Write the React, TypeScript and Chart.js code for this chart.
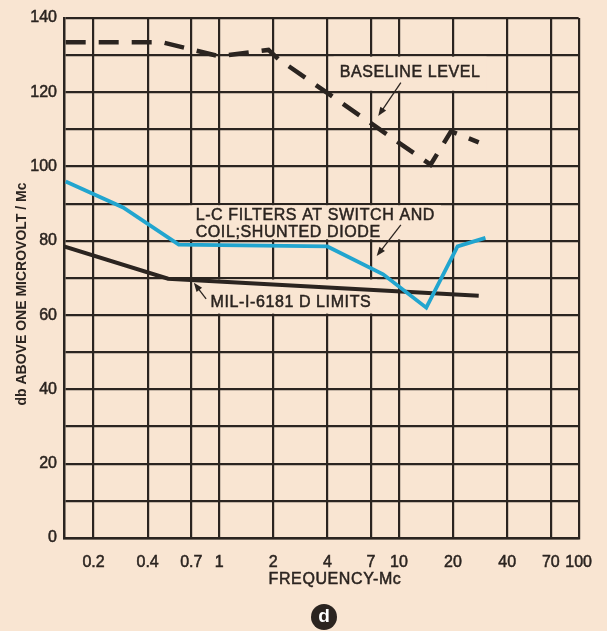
import React, { useEffect, useRef } from "react";
import { Chart, registerables } from "chart.js";

Chart.register(...registerables);

// ---- data ----
const freqTicks = [0.2, 0.4, 0.7, 1, 2, 4, 7, 10, 20, 40, 70, 100];
const freqTickLabels = ["0.2", "0.4", "0.7", "1", "2", "4", "7", "10", "20", "40", "70", "100"];
const dbLabelStep = 20;

const baselineFreq = [0.14, 0.48, 1.0, 1.88, 2.13, 15, 19.5, 27.8];
const baselineDb = [133.5, 133.5, 129.7, 131.4, 129, 100.5, 109.5, 106.5];

const lcFreq = [0.14, 0.292, 0.596, 4, 8.17, 14.2, 21.2, 30.3];
const lcDb = [96, 89, 79, 78.5, 71, 62, 78.5, 80.8];

const milFreq = [0.137, 0.52, 27.8];
const milDb = [78.5, 69.8, 65.2];

// ---- style ----
const PAPER = "#f9e5d2";
const INK = "#2b2420";
const BLUE = "#22a5cf";
const FONT = "'Liberation Sans', Arial, sans-serif";

const pts = (xs: number[], ys: number[]) => xs.map((x, i) => ({ x, y: ys[i] }));

type Note = {
  lines: string[];
  at: [number, number];
  lineGap: number;
  box: [number, number];
  arrowFrom: [number, number];
  arrowTo: [number, number];
};

const notes: Note[] = [
  {
    lines: ["BASELINE LEVEL"],
    at: [4.68, 125.3],
    lineGap: 0,
    box: [130, 120],
    arrowFrom: [10.25, 122.6],
    arrowTo: [7.67, 113.6],
  },
  {
    lines: ["L-C FILTERS AT SWITCH AND", "COIL;SHUNTED DIODE"],
    at: [0.74, 86.8],
    lineGap: 17,
    box: [90, 80],
    arrowFrom: [10.25, 84.3],
    arrowTo: [7.52, 75.9],
  },
  {
    lines: ["MIL-I-6181 D LIMITS"],
    at: [0.895, 63.5],
    lineGap: 0,
    box: [70, 60],
    arrowFrom: [0.846, 64.4],
    arrowTo: [0.723, 68.7],
  },
];

function arrow(ctx: CanvasRenderingContext2D, x1: number, y1: number, x2: number, y2: number) {
  const a = Math.atan2(y2 - y1, x2 - x1);
  const L = 9, W = 3.5;
  ctx.save();
  ctx.strokeStyle = INK;
  ctx.fillStyle = INK;
  ctx.lineWidth = 1.3;
  ctx.beginPath();
  ctx.moveTo(x1, y1);
  ctx.lineTo(x2 - Math.cos(a) * L * 0.7, y2 - Math.sin(a) * L * 0.7);
  ctx.stroke();
  ctx.beginPath();
  ctx.moveTo(x2, y2);
  ctx.lineTo(x2 - Math.cos(a) * L - Math.sin(a) * W, y2 - Math.sin(a) * L + Math.cos(a) * W);
  ctx.lineTo(x2 - Math.cos(a) * L + Math.sin(a) * W, y2 - Math.sin(a) * L - Math.cos(a) * W);
  ctx.closePath();
  ctx.fill();
  ctx.restore();
}

function heavyText(ctx: CanvasRenderingContext2D, s: string, x: number, y: number) {
  ctx.fillText(s, x, y);
  ctx.strokeText(s, x, y);
}

const decor = {
  id: "decor",
  beforeDraw(chart: any) {
    const { ctx, width, height } = chart;
    ctx.save();
    ctx.fillStyle = PAPER;
    ctx.fillRect(0, 0, width, height);
    ctx.restore();
  },
  beforeDatasetsDraw(chart: any) {
    const { ctx } = chart;
    const xs = chart.scales.x, ys = chart.scales.y;
    ctx.save();
    ctx.font = `16px ${FONT}`;
    (ctx as any).letterSpacing = "0.6px";
    ctx.strokeStyle = INK;
    ctx.lineWidth = 0.5;
    for (const n of notes) {
      const left = xs.getPixelForValue(n.at[0]);
      let w = 0;
      n.lines.forEach((l) => (w = Math.max(w, ctx.measureText(l).width)));
      const top = ys.getPixelForValue(n.box[0]) + 1.5;
      const bot = ys.getPixelForValue(n.box[1]) - 1.5;
      ctx.fillStyle = PAPER;
      ctx.fillRect(left - 6, top, w + 12, bot - top);
      ctx.fillStyle = INK;
      ctx.textBaseline = "middle";
      ctx.textAlign = "left";
      const y0 = ys.getPixelForValue(n.at[1]);
      n.lines.forEach((l, i) => heavyText(ctx, l, left, y0 + i * n.lineGap));
    }
    ctx.restore();
  },
  afterDatasetsDraw(chart: any) {
    const { ctx } = chart;
    const xs = chart.scales.x, ys = chart.scales.y;
    for (const n of notes) {
      arrow(
        ctx,
        xs.getPixelForValue(n.arrowFrom[0]),
        ys.getPixelForValue(n.arrowFrom[1]),
        xs.getPixelForValue(n.arrowTo[0]),
        ys.getPixelForValue(n.arrowTo[1])
      );
    }
  },
  afterDraw(chart: any) {
    const { ctx } = chart;
    ctx.save();
    ctx.fillStyle = INK;
    ctx.strokeStyle = INK;
    ctx.lineWidth = 0.5;
    // y title
    ctx.save();
    ctx.translate(22, 294);
    ctx.rotate(-Math.PI / 2);
    ctx.font = `bold 14px ${FONT}`;
    ctx.textAlign = "center";
    ctx.textBaseline = "middle";
    ctx.fillText("db ABOVE ONE MICROVOLT / Mc", 0, 0);
    ctx.restore();
    // x title
    ctx.font = `16px ${FONT}`;
    (ctx as any).letterSpacing = "0.6px";
    ctx.textAlign = "center";
    ctx.textBaseline = "middle";
    heavyText(ctx, "FREQUENCY-Mc", 335, 580);
    (ctx as any).letterSpacing = "0px";
    // panel marker
    ctx.beginPath();
    ctx.arc(324, 617, 13, 0, Math.PI * 2);
    ctx.fill();
    ctx.fillStyle = "#ffffff";
    ctx.font = `bold 19px ${FONT}`;
    ctx.fillText("d", 324, 617);
    ctx.restore();
  },
};

export default function App() {
  const ref = useRef<HTMLCanvasElement | null>(null);
  useEffect(() => {
    if (!ref.current) return;
    const chart = new Chart(ref.current, {
      type: "line",
      data: {
        datasets: [
          {
            label: "Baseline level",
            data: pts(baselineFreq, baselineDb),
            borderColor: INK,
            borderWidth: 4.5,
            borderDash: [20, 13],
            borderCapStyle: "butt",
            pointRadius: 0,
            tension: 0,
            fill: false,
          },
          {
            label: "L-C filters at switch and coil; shunted diode",
            data: pts(lcFreq, lcDb),
            borderColor: BLUE,
            borderWidth: 3.8,
            pointRadius: 0,
            tension: 0,
            fill: false,
          },
          {
            label: "MIL-I-6181 D limits",
            data: pts(milFreq, milDb),
            borderColor: INK,
            borderWidth: 4,
            pointRadius: 0,
            tension: 0,
            fill: false,
          },
        ],
      },
      options: {
        responsive: false,
        animation: false,
        events: [],
        layout: { padding: { left: 0, right: 25, top: 18, bottom: 0 } },
        plugins: { legend: { display: false }, tooltip: { enabled: false }, title: { display: false } },
        scales: {
          x: {
            type: "logarithmic",
            min: 0.137,
            max: 100,
            afterBuildTicks: (s: any) => {
              s.ticks = freqTicks.map((v) => ({ value: v }));
            },
            afterFit: (s: any) => {
              s.height = 93;
            },
            grid: { color: INK, lineWidth: 2.2, drawTicks: false },
            border: { display: true, color: INK, width: 2.5 },
            ticks: {
              autoSkip: false,
              maxRotation: 0,
              minRotation: 0,
              padding: 15,
              color: INK,
              textStrokeColor: INK,
              textStrokeWidth: 0.5,
              font: { family: FONT, size: 16 },
              callback: (v: any) => {
                const i = freqTicks.indexOf(Number(v));
                return i >= 0 ? freqTickLabels[i] : "";
              },
            },
          },
          y: {
            type: "linear",
            min: 0,
            max: 140,
            afterFit: (s: any) => {
              s.width = 64;
            },
            grid: { color: INK, lineWidth: 2.2, drawTicks: false },
            border: { display: true, color: INK, width: 2.5 },
            ticks: {
              stepSize: 10,
              padding: 7,
              color: INK,
              textStrokeColor: INK,
              textStrokeWidth: 0.5,
              font: { family: FONT, size: 16 },
              callback: (v: any) => (Number(v) % dbLabelStep === 0 ? String(v) : ""),
            },
          },
        },
      },
      plugins: [decor],
    } as any);
    return () => chart.destroy();
  }, []);
  return (
    <div style={{ position: "absolute", left: 0, top: 0, width: 607, height: 631, background: PAPER }}>
      <canvas ref={ref} width={607} height={631} style={{ display: "block" }} />
    </div>
  );
}
